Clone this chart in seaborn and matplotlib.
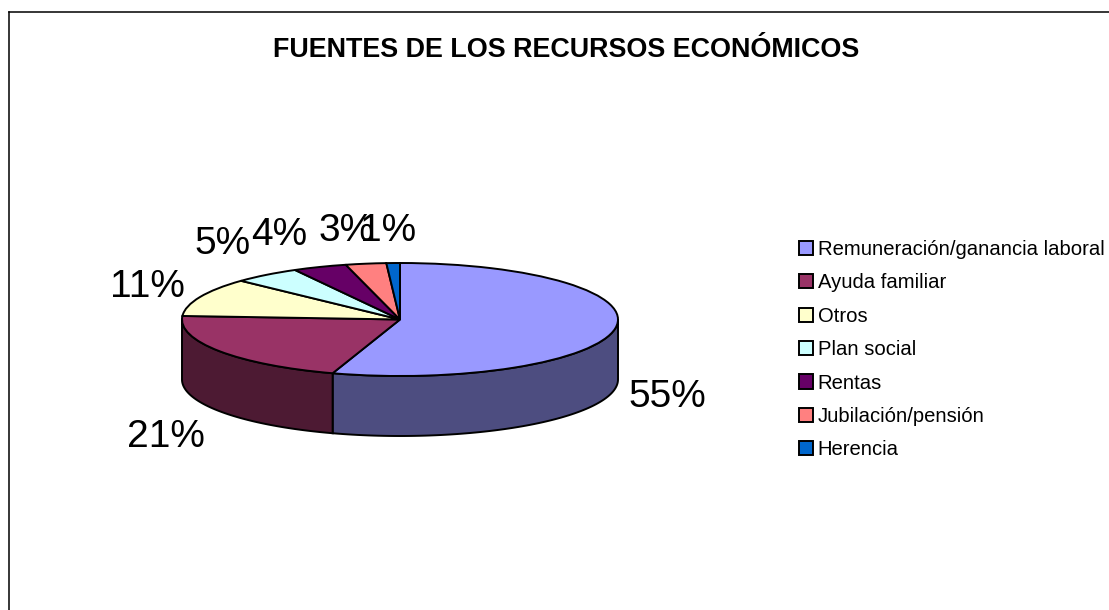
import numpy as np
import matplotlib
matplotlib.use("Agg")
import matplotlib.pyplot as plt
import seaborn as sns

title = "FUENTES DE LOS RECURSOS ECONÓMICOS"
categories = ["Remuneración/ganancia laboral", "Ayuda familiar", "Otros", "Plan social",
              "Rentas", "Jubilación/pensión", "Herencia"]
values = [55, 21, 11, 5, 4, 3, 1]

top_colors = ["#9999ff", "#993366", "#ffffcc", "#ccffff", "#660066", "#ff8080", "#0066cc"]
wall_colors = ["#4d4d80", "#4d1a33", "#808066", "#668080", "#330033", "#804040", "#003366"]
label_centers_px = [(667, 397), (166, 437), (147, 287), (223, 244), (279, 235), (347, 231), (388, 231)]

W, H = 1109, 610
sns.set_theme(style="white")
plt.rcParams["font.family"] = ["Liberation Sans", "DejaVu Sans"]

fig = plt.figure(figsize=(W / 100, H / 100), dpi=100, facecolor="white")

# chart frame: only left and top edges fall inside the picture
bg = fig.add_axes([8.5 / W, 0, 1 - 8.5 / W, (H - 11.5) / H])
bg.set_xticks([]); bg.set_yticks([])
sns.despine(ax=bg, right=True, bottom=True)
for s in ("left", "top"):
    bg.spines[s].set_visible(True)
    bg.spines[s].set_color("black")
    bg.spines[s].set_linewidth(1.1)

# pie disc squeezed to an ellipse by stretching the axes
cx, cy, rx, ry, depth = 400, 319.5, 218, 56.5, 60
ax = fig.add_axes([(cx - rx) / W, (H - cy - ry) / H, 2 * rx / W, 2 * ry / H])
wedges, _ = ax.pie(values, colors=top_colors, startangle=90, counterclock=False, radius=1,
                   wedgeprops=dict(edgecolor="black", linewidth=1.4, zorder=3))
ax.set_aspect("auto")
ax.set_xlim(-1, 1)
ax.set_ylim(-1, 1)

# side wall derived from the same values
d = depth / ry
start = 90.0
for v, wc in zip(values, wall_colors):
    end = start - v * 3.6
    a0, a1 = max(end, -180.0), min(start, 0.0)
    if a0 < a1:
        th = np.radians(np.linspace(a0, a1, 80))
        xs = np.cos(th)
        ys = np.sin(th)
        ax.fill(np.r_[xs, xs[::-1]], np.r_[ys, ys[::-1] - d], facecolor=wc,
                edgecolor="black", linewidth=1.4, zorder=2, clip_on=False)
    start = end

# data labels
for v, (px, py) in zip(values, label_centers_px):
    fig.text(px / W, 1 - py / H, f"{v}%", fontsize=28, color="black", ha="center", va="center")

fig.text(566 / W, 1 - 50 / H, title, fontsize=19.4, fontweight="bold", color="black",
         ha="center", va="center")

fig.legend(wedges, categories, loc="center left", bbox_to_anchor=(799 / W, 1 - 349.7 / H),
           frameon=False, fontsize=14.6, borderpad=0, borderaxespad=0,
           labelspacing=0.71, handlelength=0.7, handleheight=0.7, handletextpad=0.22,
           labelcolor="black")

fig.savefig("out.png", dpi=100, facecolor="white")
